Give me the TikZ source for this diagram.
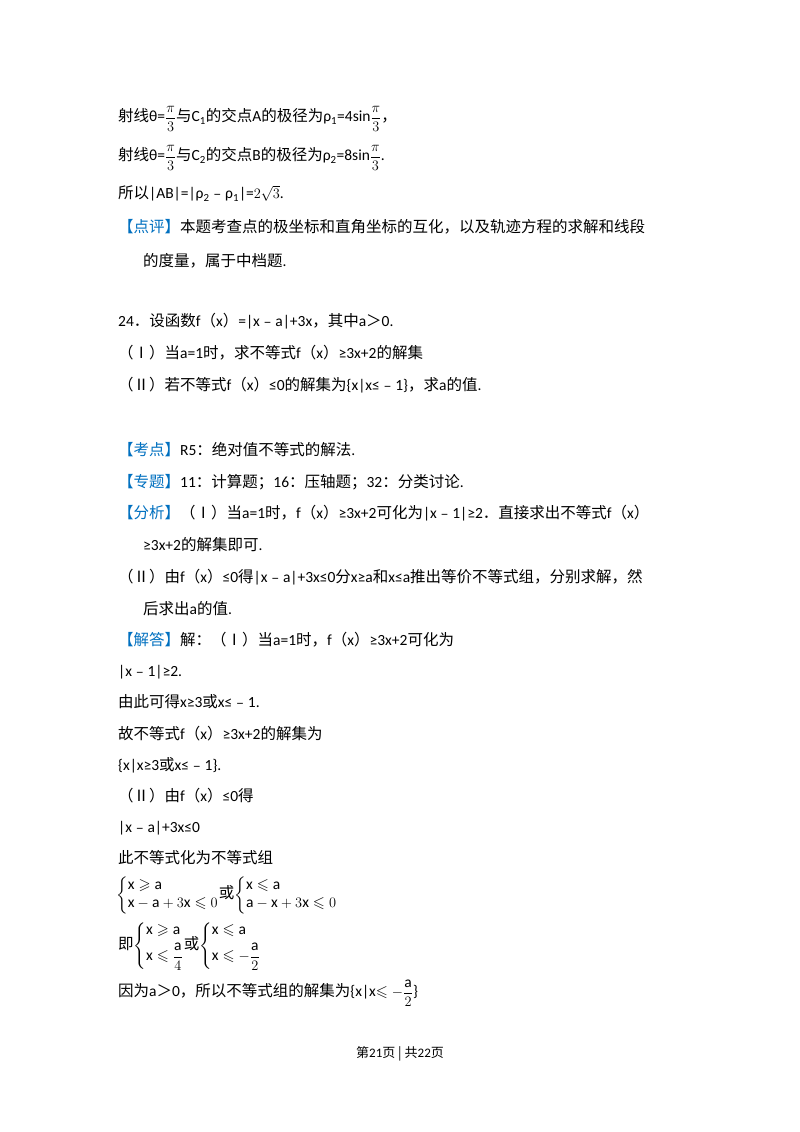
\documentclass[tikz,border=0pt]{standalone}
\usepackage{amsmath,amssymb}
\usepackage{fontspec}
\setmainfont{Carlito}
\newfontfamily\cjk{Noto Sans CJK SC}
\newcommand\latinf{\rmfamily}
\XeTeXinterchartokenstate=1
\newXeTeXintercharclass\cjkclass
\newcount\cc
\cc="3000 \loop \XeTeXcharclass\cc=\cjkclass \advance\cc1 \ifnum\cc<"A000 \repeat
\cc="FE30 \loop \XeTeXcharclass\cc=\cjkclass \advance\cc1 \ifnum\cc<"FFF0 \repeat
\cc="2160 \loop \XeTeXcharclass\cc=\cjkclass \advance\cc1 \ifnum\cc<"2180 \repeat
\XeTeXinterchartoks 0 \cjkclass = {\cjk}
\XeTeXinterchartoks 4095 \cjkclass = {\cjk}
\XeTeXinterchartoks \cjkclass 0 = {\latinf}
\definecolor{kb}{RGB}{0,112,192}
\newcommand\kb[1]{\textcolor{kb}{【#1】}}
\newcommand\fr[2]{$\dfrac{#1}{#2}$}
\begin{document}
\begin{tikzpicture}[x=1pt,y=1pt,
  ln/.style={anchor=base west,inner sep=0pt,font=\fontsize{15.5}{18}\selectfont}]
\useasboundingbox (0,0) rectangle (800,1132);
\fill[white] (0,0) rectangle (800,1132);
\node[ln] (l1) at (118,1132-122) {射线θ=\fr{\pi}{3}与C\textsubscript{1}的交点A的极径为ρ\textsubscript{1}=4sin\fr{\pi}{3}，};
\node[ln] (l2) at (118,1132-161) {射线θ=\fr{\pi}{3}与C\textsubscript{2}的交点B的极径为ρ\textsubscript{2}=8sin\fr{\pi}{3}.};
\node[ln] (l3) at (118,1132-199) {所以|AB|=|ρ\textsubscript{2}﹣ρ\textsubscript{1}|=$2\sqrt{3}$.};
\node[ln] (l4) at (118,1132-233) {\kb{点评}本题考查点的极坐标和直角坐标的互化，以及轨迹方程的求解和线段};
\node[ln] (l5) at (143,1132-267) {的度量，属于中档题.};
\node[ln] (l6) at (118,1132-327) {24．设函数f（x）=|x﹣a|+3x，其中a＞0.};
\node[ln] (l7) at (118,1132-359) {（Ⅰ）当a=1时，求不等式f（x）≥3x+2的解集};
\node[ln] (l8) at (118,1132-391) {（Ⅱ）若不等式f（x）≤0的解集为\{x|x≤﹣1\}，求a的值.};
\node[ln] (l9) at (118,1132-456) {\kb{考点}R5：绝对值不等式的解法.};
\node[ln] (l10) at (118,1132-488) {\kb{专题}11：计算题；16：压轴题；32：分类讨论.};
\node[ln] (l11) at (118,1132-519) {\kb{分析}（Ⅰ）当a=1时，f（x）≥3x+2可化为|x﹣1|≥2．直接求出不等式f（x）};
\node[ln] (l12) at (143,1132-551) {≥3x+2的解集即可.};
\node[ln] (l13) at (118,1132-583) {（Ⅱ）由f（x）≤0得|x﹣a|+3x≤0分x≥a和x≤a推出等价不等式组，分别求解，然};
\node[ln] (l14) at (143,1132-615) {后求出a的值.};
\node[ln] (l15) at (118,1132-646) {\kb{解答}解：（Ⅰ）当a=1时，f（x）≥3x+2可化为};
\node[ln] (l16) at (118,1132-677) {|x﹣1|≥2.};
\node[ln] (l17) at (118,1132-708) {由此可得x≥3或x≤﹣1.};
\node[ln] (l18) at (118,1132-740) {故不等式f（x）≥3x+2的解集为};
\node[ln] (l19) at (118,1132-771) {\{x|x≥3或x≤﹣1\}.};
\node[ln] (l20) at (118,1132-802) {（Ⅱ）由f（x）≤0得};
\node[ln] (l21) at (118,1132-833) {|x﹣a|+3x≤0};
\node[ln] (l22) at (118,1132-864) {此不等式化为不等式组};
\node[ln,anchor=west] (l23) at (116,1132-895) {$\left\{\begin{array}{@{}l@{}}\mathrm{x}\geqslant \mathrm{a}\\ \mathrm{x-a}+3\mathrm{x}\leqslant 0\end{array}\right.$或$\left\{\begin{array}{@{}l@{}}\mathrm{x}\leqslant \mathrm{a}\\ \mathrm{a-x}+3\mathrm{x}\leqslant 0\end{array}\right.$};
\node[ln,anchor=west] (l24) at (118,1132-946) {即$\left\{\begin{array}{@{}l@{}}\mathrm{x}\geqslant \mathrm{a}\\[4pt] \mathrm{x}\leqslant\dfrac{\mathrm{a}}{4}\end{array}\right.$或$\left\{\begin{array}{@{}l@{}}\mathrm{x}\leqslant \mathrm{a}\\[4pt] \mathrm{x}\leqslant-\dfrac{\mathrm{a}}{2}\end{array}\right.$};
\node[ln] (l25) at (118,1132-997) {因为a＞0，所以不等式组的解集为\{x|x$\leqslant-\dfrac{\mathrm{a}}{2}$\}};
\node[ln,anchor=base] (ft) at (400,1132-1058) {\fontsize{13}{15}\selectfont 第21页 | 共22页};
\end{tikzpicture}
\end{document}
